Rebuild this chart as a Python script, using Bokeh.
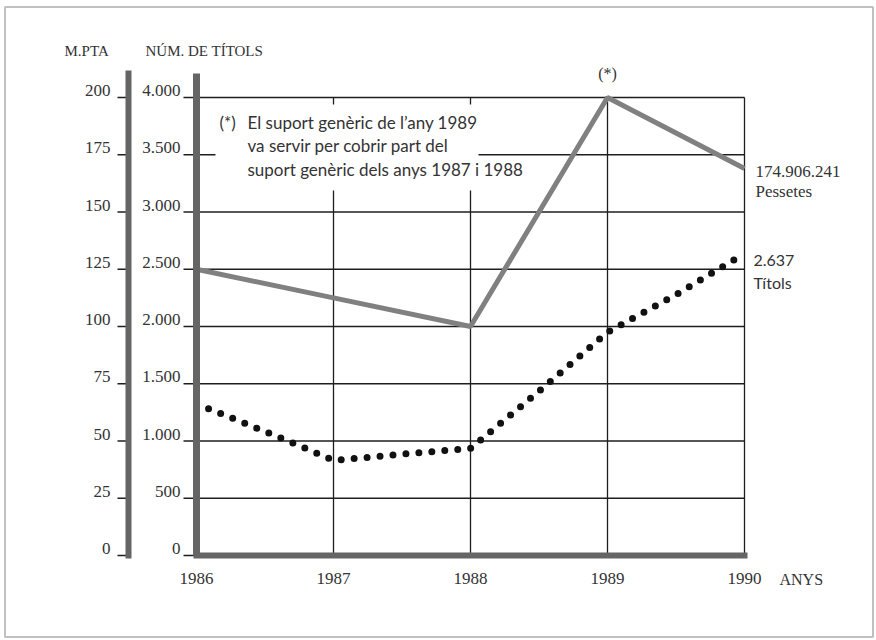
from bokeh.plotting import figure
from bokeh.models import Range1d, LinearAxis, FixedTicker, Label, BoxAnnotation
from bokeh.embed import file_html
from bokeh.resources import INLINE

# ---- data ----
years = [1986, 1987, 1988, 1989, 1990]
year_labels = ["1986", "1987", "1988", "1989", "1990"]
pessetes_mpta = [125, 112.5, 100, 200, 169]          # milions de pessetes
titols_x = [1986, 1986.25, 1986.5, 1986.75, 1987, 1987.5, 1988, 1988.5, 1989, 1989.5, 1990]
titols = [1325, 1205, 1083, 960, 830, 885, 935, 1435, 1950, 2278, 2637]
titols_ticks = [0, 500, 1000, 1500, 2000, 2500, 3000, 3500, 4000]
titols_tick_labels = ["0", "500", "1.000", "1.500", "2.000", "2.500", "3.000", "3.500", "4.000"]
mpta_ticks = [0, 25, 50, 75, 100, 125, 150, 175, 200]
mpta_tick_labels = ["0", "25", "50", "75", "100", "125", "150", "175", "200"]

# ---- layout (pixels of the 876x640 canvas) ----
W, H = 876, 640
X0_PX, PX_PER_YEAR = 196, 137.0       # where 1986 sits, pixels per year
Y0_PX, PX_PER_UNIT = 555, 57.25 / 500  # where 0 sits, pixels per títol
RATIO = titols_ticks[-1] / mpta_ticks[-1]
RAISE = 7                               # tick labels sit on their tick
LABEL_DY = -7                           # baseline correction for free labels

def xd(px):
    return years[0] + (px - X0_PX) / PX_PER_YEAR

def yd(py):
    return (Y0_PX - py) / PX_PER_UNIT

SERIF = "Liberation Serif"
SANS = "Lato"
TXT = "#333333"
BAR = "#656565"
INK = "#1e1e1e"

p = figure(width=W, height=H,
           x_range=Range1d(xd(0), xd(W)), y_range=Range1d(yd(H), yd(0)),
           output_backend="svg", toolbar_location=None,
           min_border=0, min_border_left=0, min_border_right=0,
           min_border_top=0, min_border_bottom=0)
p.outline_line_color = None
p.background_fill_color = "white"
p.border_fill_color = "white"
p.xgrid.visible = False
p.ygrid.visible = False

t_shift = RAISE / PX_PER_UNIT
m_shift = t_shift / RATIO
p.extra_y_ranges = {
    "tlab": Range1d(yd(H) - t_shift, yd(0) - t_shift),
    "mpta": Range1d(yd(H) / RATIO, yd(0) / RATIO),
    "mlab": Range1d(yd(H) / RATIO - m_shift, yd(0) / RATIO - m_shift),
}

# ---- grid: horizontal lines (extended left as the tick dashes) and vertical lines ----
p.segment(x0=[xd(183)] * len(titols_ticks), y0=titols_ticks,
          x1=[years[-1]] * len(titols_ticks), y1=titols_ticks,
          line_color=INK, line_width=1.3)
p.segment(x0=years[1:], y0=[titols_ticks[0]] * 4, x1=years[1:], y1=[titols_ticks[-1]] * 4,
          line_color=INK, line_width=1.3)
# M.PTA tick dashes
p.segment(x0=[xd(117)] * len(mpta_ticks), y0=mpta_ticks,
          x1=[xd(128)] * len(mpta_ticks), y1=mpta_ticks,
          y_range_name="mpta", line_color=INK, line_width=1.3)

# white box behind the note
p.quad(left=xd(215), right=xd(478), bottom=yd(190), top=yd(104),
       fill_color="white", line_color=None)

# ---- axes (fixed inside the canvas) ----
ya = p.yaxis[0]
ya.y_range_name = "tlab"
ya.fixed_location = years[0]
ya.bounds = (0 - t_shift, yd(73) - t_shift)
ya.ticker = FixedTicker(ticks=titols_ticks)
ya.major_label_overrides = dict(zip(titols_ticks, titols_tick_labels))
ya.axis_line_color = BAR
ya.axis_line_width = 7
ya.major_tick_out = 0
ya.major_tick_in = 0
ya.major_tick_line_color = None
ya.minor_tick_line_color = None
ya.major_label_standoff = 16
ya.major_label_text_font = SERIF
ya.major_label_text_font_size = "17px"
ya.major_label_text_color = TXT

ma = LinearAxis(y_range_name="mlab", ticker=FixedTicker(ticks=mpta_ticks))
ma.fixed_location = xd(128)
ma.bounds = (yd(558) / RATIO - m_shift, yd(70) / RATIO - m_shift)
ma.major_label_overrides = dict(zip(mpta_ticks, mpta_tick_labels))
ma.axis_line_color = BAR
ma.axis_line_width = 6
ma.major_tick_out = 0
ma.major_tick_in = 0
ma.major_tick_line_color = None
ma.minor_tick_line_color = None
ma.major_label_standoff = 18
ma.major_label_text_font = SERIF
ma.major_label_text_font_size = "17px"
ma.major_label_text_color = TXT
p.add_layout(ma, "left")

xa = p.xaxis[0]
xa.fixed_location = 0
xa.bounds = (xd(193), xd(747))
xa.ticker = FixedTicker(ticks=years)
xa.major_label_overrides = dict(zip(years, year_labels))
xa.axis_line_color = BAR
xa.axis_line_width = 6
xa.major_tick_out = 0
xa.major_tick_in = 0
xa.major_tick_line_color = None
xa.minor_tick_line_color = None
xa.major_label_standoff = 17
xa.major_label_text_font = SERIF
xa.major_label_text_font_size = "17px"
xa.major_label_text_color = TXT

# ---- series ----
p.line(years, pessetes_mpta, y_range_name="mpta", line_color="#808080", line_width=5)
p.line(titols_x, titols, line_color="#111111", line_width=7, line_dash="0 13", line_cap="round")

def lab(px, py, text, font, size, align="left"):
    p.add_layout(Label(x=xd(px), y=yd(py + LABEL_DY), text=text, text_font=font,
                       text_font_size=size, text_color=TXT, text_align=align,
                       text_baseline="alphabetic"))

lab(64, 57, "M.PTA", SERIF, "15px")
lab(145, 57, "NÚM. DE TÍTOLS", SERIF, "15px")
lab(607, 80, "(*)", SERIF, "16px", "center")
lab(219, 129, "(*)", SANS, "17px")
lab(247, 129, "El suport genèric de l’any 1989", SANS, "17px")
lab(247, 152, "va servir per cobrir part del", SANS, "17px")
lab(247, 176, "suport genèric dels anys 1987 i 1988", SANS, "17px")
lab(755, 178, "174.906.241", SERIF, "17px")
lab(755, 198, "Pessetes", SERIF, "17px")
lab(753, 267, "2.637", SANS, "16px")
lab(753, 289, "Títols", SANS, "16px")
lab(779, 586, "ANYS", SERIF, "16px")

# outer frame of the page
p.add_layout(BoxAnnotation(left=xd(4.5), right=xd(872.5), top=yd(6.5), bottom=yd(636.5),
                           fill_alpha=0, line_color="#333333", line_width=2))

open("out.html", "w").write(file_html(p, INLINE))
